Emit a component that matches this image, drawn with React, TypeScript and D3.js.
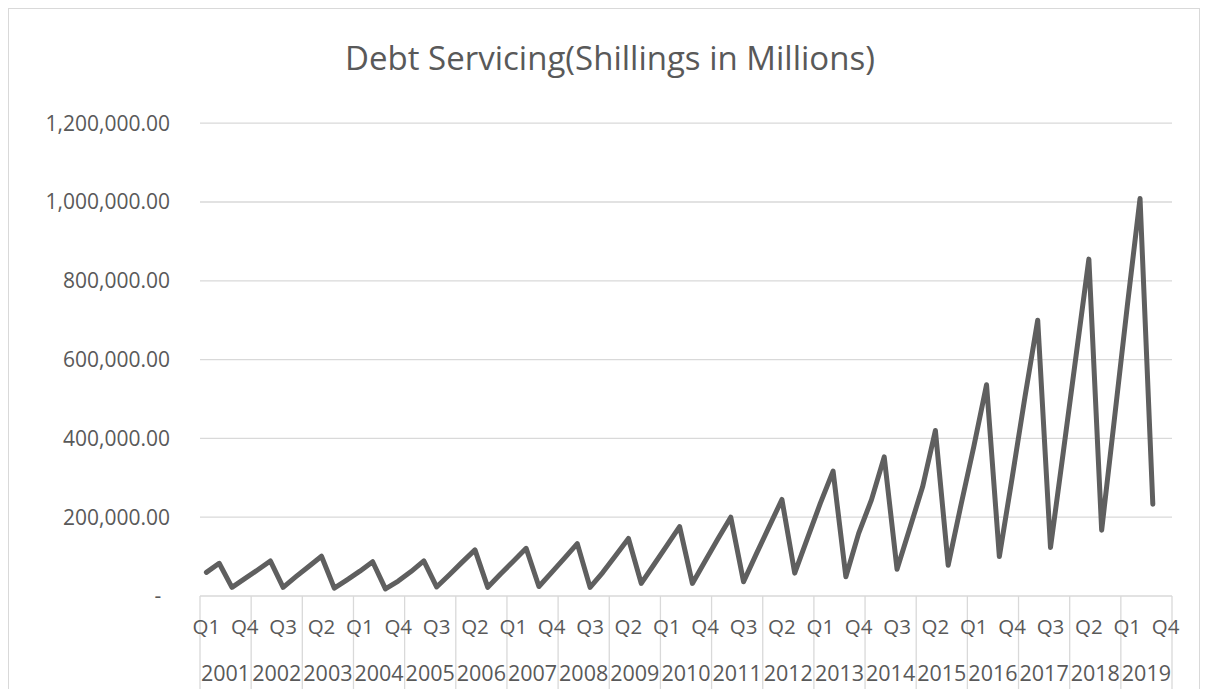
import React from "react";
import * as d3 from "d3";

const years = ["2001","2002","2003","2004","2005","2006","2007","2008","2009","2010","2011","2012","2013","2014","2015","2016","2017","2018","2019"];
const quarters = ["Q1","Q2","Q3","Q4"];
// Debt servicing, shillings in millions, per quarter from 2001 Q1 (2019 Q4 has no value)
const debtServicing: (number | null)[] = [
  60000, 83000, 22000, 44000,
  66000, 89000, 22000, 49000,
  75000, 101000, 20000, 41000,
  63000, 87000, 18000, 38000,
  62000, 89000, 23000, 54000,
  86000, 117000, 22000, 56000,
  88000, 121000, 24000, 60000,
  96000, 133000, 22000, 60000,
  103000, 146000, 32000, 80000,
  128000, 176000, 32000, 89000,
  145000, 200000, 36000, 107000,
  176000, 245000, 58000, 147000,
  235000, 317000, 49000, 159000,
  244000, 353000, 68000, 172000,
  277000, 420000, 78000, 231000,
  379000, 536000, 100000, 300000,
  505000, 700000, 123000, 365000,
  610000, 855000, 167000, 450000,
  735000, 1009000, 233000, null,
];
const yTicks = [0, 200000, 400000, 600000, 800000, 1000000, 1200000];
const title = "Debt Servicing(Shillings in Millions)";

const W = 1209, H = 689;
const left = 200, right = 1172, top = 123.2, bottom = 596;
const FONT = "'Open Sans', 'Noto Sans', sans-serif";
const TXT = "#595959";
const GRID = "#d9d9d9";

export default function App() {
  const cats = years.flatMap((y) => quarters.map((q) => `${y}-${q}`));
  const x = d3.scaleBand<string>().domain(cats).range([left, right]).padding(0);
  const bw = x.bandwidth();
  const y = d3.scaleLinear().domain([0, 1200000]).range([bottom, top]);
  const fmt = d3.format(",.2f");

  const pts = debtServicing.map((v, i) => ({ i, v }));
  const line = d3
    .line<{ i: number; v: number | null }>()
    .defined((d) => d.v != null)
    .x((d) => (x(cats[d.i]) as number) + bw / 2)
    .y((d) => y(d.v as number));

  return (
    <svg width={W} height={H} style={{ position: "absolute", left: 0, top: 0, background: "#fff" }}>
      <rect x={8.5} y={8.5} width={1191} height={720} fill="#fff" stroke={GRID} strokeWidth={1} />
      <text x={610} y={70} textAnchor="middle" fontFamily={FONT} fontSize={33} fill={TXT}>
        {title}
      </text>
      {yTicks.map((t) => (
        <g key={t}>
          <line x1={left} x2={right} y1={y(t)} y2={y(t)} stroke={GRID} strokeWidth={1.3} />
          {t === 0 ? (
            <text x={158} y={y(t)} dy="0.35em" textAnchor="middle" fontFamily={FONT} fontSize={21} fill={TXT}>-</text>
          ) : (
            <text x={170} y={y(t)} dy="0.35em" textAnchor="end" fontFamily={FONT} fontSize={21} fill={TXT}>
              {fmt(t)}
            </text>
          )}
        </g>
      ))}
      {d3.range(years.length + 1).map((k) => {
        const xx = k < years.length ? (x(`${years[k]}-Q1`) as number) : right;
        return <line key={k} x1={xx} x2={xx} y1={bottom} y2={H} stroke={GRID} strokeWidth={1.3} />;
      })}
      {cats.map((c, i) =>
        i % 3 === 0 ? (
          <text key={c} x={(x(c) as number) + bw / 2} y={627} dy="0.35em" textAnchor="middle" fontFamily={FONT} fontSize={20.5} fill={TXT}>
            {quarters[i % 4]}
          </text>
        ) : null
      )}
      {years.map((yr) => (
        <text key={yr} x={(x(`${yr}-Q1`) as number) + bw * 2} y={673} dy="0.35em" textAnchor="middle" fontFamily={FONT} fontSize={21.5} fill={TXT}>
          {yr}
        </text>
      ))}
      <path d={line(pts) || ""} fill="none" stroke="#5f5f5f" strokeWidth={5} strokeLinejoin="round" strokeLinecap="round" />
    </svg>
  );
}
